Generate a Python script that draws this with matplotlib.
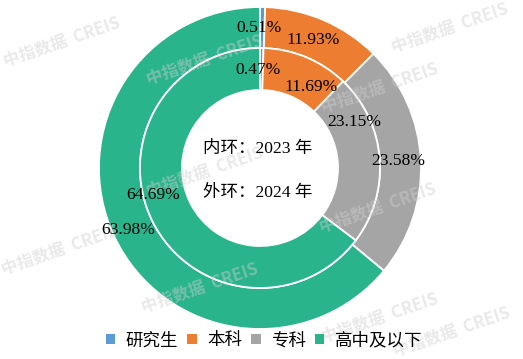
import matplotlib
matplotlib.use("Agg")
import matplotlib.pyplot as plt
from matplotlib.patches import Patch

plt.rcParams['font.family'] = ['Liberation Serif', 'Noto Sans CJK SC', 'DejaVu Sans']

categories = ['研究生', '本科', '专科', '高中及以下']
outer_2024 = [0.51, 11.93, 23.58, 63.98]
inner_2023 = [0.47, 11.69, 23.15, 64.69]
colors = ['#5B9BD5', '#ED7D31', '#A5A5A5', '#2AB48C']
center_texts = ['内环：2023 年', '外环：2024 年']

W, H = 523, 359
fig = plt.figure(figsize=(W / 100, H / 100), dpi=100)
ax = fig.add_axes([0, 0, 1, 1])
ax.set_xlim(0, W)
ax.set_ylim(0, H)
ax.set_aspect('equal')
ax.axis('off')

cx, cy = 260, H - 168

# watermarks
wm_pos = [(62, 42), (205, 60), (380, 88), (450, 28), (205, 172), (378, 208),
          (60, 250), (200, 288), (380, 318), (452, 332)]
for (x, y) in wm_pos:
    ax.text(x, H - y, '中指数据  CREIS', fontsize=12, color='#cfcfcf', alpha=0.45,
            rotation=19, ha='center', va='center', family=['Noto Sans CJK SC', 'DejaVu Sans'],
            fontweight='bold', zorder=5)

wp = dict(edgecolor='white', linewidth=1.3)
ax.pie(outer_2024, radius=161, center=(cx, cy), colors=colors, startangle=90,
       counterclock=False, wedgeprops=dict(width=41, **wp))
ax.pie(inner_2023, radius=120, center=(cx, cy), colors=colors, startangle=90,
       counterclock=False, wedgeprops=dict(width=42, **wp))
ax.set_xlim(0, W)
ax.set_ylim(0, H)

outer_lab_pos = [(259, 28), (313, 40), (398, 161), (128, 230)]
inner_lab_pos = [(258, 70), (311, 87), (354, 122), (153, 195)]
fs = 12.6
for v, (x, y) in zip(outer_2024, outer_lab_pos):
    ax.text(x, H - y, f'{v:.2f}%', fontsize=fs, ha='center', va='center', color='black', zorder=10)
for v, (x, y) in zip(inner_2023, inner_lab_pos):
    ax.text(x, H - y, f'{v:.2f}%', fontsize=fs, ha='center', va='center', color='black', zorder=10)

ax.text(258, H - 149, center_texts[0], fontsize=fs, ha='center', va='center', zorder=10)
ax.text(258, H - 193, center_texts[1], fontsize=fs, ha='center', va='center', zorder=10)

handles = [Patch(facecolor=c, edgecolor='none') for c in colors]
fig.legend(handles, categories, loc='center', bbox_to_anchor=(264 / W, 1 - 341 / H),
           ncol=4, frameon=False, fontsize=fs, handlelength=0.55, handleheight=0.55,
           handletextpad=0.6, columnspacing=0.5, borderaxespad=0)

fig.savefig('out.png', dpi=100)
